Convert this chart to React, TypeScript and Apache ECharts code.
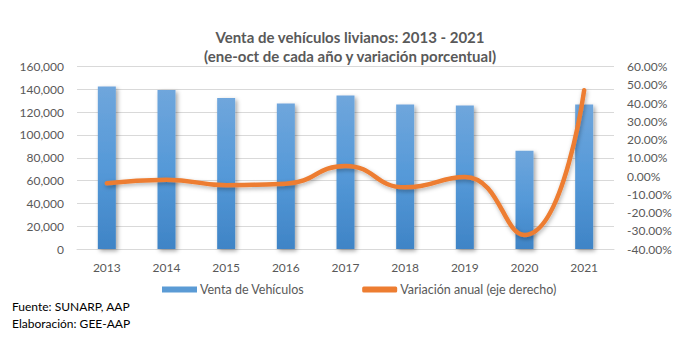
import React, { useEffect, useRef } from "react";
import * as echarts from "echarts";

const years = ["2013", "2014", "2015", "2016", "2017", "2018", "2019", "2020", "2021"];
const ventas = [142400, 139500, 132400, 127500, 134500, 126600, 125700, 86200, 126600];
const variacion = [-4.0, -2.0, -5.0, -4.2, 5.5, -6.2, -0.5, -32.3, 47.0];
const leftTicks = { min: 0, max: 160000, interval: 20000 };
const rightTicks = { min: -40, max: 60, interval: 10 };

const FONT = "Lato, 'Open Sans', sans-serif";
const GRAY = "#595959";

export default function App() {
  const ref = useRef<HTMLDivElement>(null);
  useEffect(() => {
    if (!ref.current) return;
    const chart = echarts.init(ref.current, undefined, { renderer: "svg" });
    chart.setOption({
      animation: false,
      backgroundColor: "#ffffff",
      textStyle: { fontFamily: FONT },
      title: {
        text: "Venta de vehículos livianos: 2013 - 2021\n(ene-oct de cada año y variación porcentual)",
        left: "center",
        top: 22,
        textStyle: { fontFamily: FONT, fontSize: 15, fontWeight: "bold", color: GRAY, lineHeight: 19 },
      },
      grid: { left: 77, right: 86, top: 66.5, bottom: 109, containLabel: false },
      legend: {
        top: 278,
        left: 157,
        itemGap: 58,
        textStyle: { fontFamily: FONT, fontSize: 12.5, color: GRAY, padding: [0, 0, 0, -2] },
        data: [
          { name: "Venta de Vehículos", icon: "rect", itemStyle: { color: "#5b9bd5" } },
          { name: "Variación anual (eje derecho)", icon: "roundRect" },
        ],
        itemWidth: 35,
        itemHeight: 6,
      },
      xAxis: {
        type: "category",
        data: years,
        axisTick: { show: false },
        axisLine: { lineStyle: { color: "#d9d9d9", width: 1 } },
        axisLabel: { color: GRAY, fontSize: 12, fontFamily: FONT, margin: 12 },
      },
      yAxis: [
        {
          type: "value",
          min: leftTicks.min,
          max: leftTicks.max,
          interval: leftTicks.interval,
          axisLabel: {
            color: GRAY,
            fontSize: 12,
            fontFamily: FONT,
            margin: 13,
            formatter: (v: number) => v.toLocaleString("en-US"),
          },
          splitLine: { lineStyle: { color: "#d9d9d9", width: 1 } },
          axisLine: { show: false },
          axisTick: { show: false },
        },
        {
          type: "value",
          min: rightTicks.min,
          max: rightTicks.max,
          interval: rightTicks.interval,
          position: "right",
          axisLabel: {
            color: GRAY,
            fontSize: 12,
            fontFamily: FONT,
            margin: 13,
            formatter: (v: number) => v.toFixed(2) + "%",
          },
          splitLine: { show: false },
          axisLine: { show: false },
          axisTick: { show: false },
        },
      ],
      series: [
        {
          name: "Venta de Vehículos",
          type: "bar",
          data: ventas,
          barWidth: 18,
          itemStyle: {
            color: new echarts.graphic.LinearGradient(0, 0, 0, 1, [
              { offset: 0, color: "#6fa6dc" },
              { offset: 0.5, color: "#5599d8" },
              { offset: 1, color: "#3f84c6" },
            ]),
            shadowBlur: 4,
            shadowColor: "rgba(0,0,0,0.35)",
            shadowOffsetX: 2,
            shadowOffsetY: 2,
          },
        },
        {
          name: "Variación anual (eje derecho)",
          type: "line",
          yAxisIndex: 1,
          data: variacion,
          smooth: 0.5,
          showSymbol: false,
          symbol: "none",
          lineStyle: {
            color: "#ed7d31",
            width: 4.5,
            shadowBlur: 4,
            shadowColor: "rgba(0,0,0,0.3)",
            shadowOffsetX: 1,
            shadowOffsetY: 2,
            cap: "round",
          },
          itemStyle: { color: "#ed7d31" },
        },
      ],
      graphic: [
        {
          type: "text",
          left: 12,
          top: 300,
          style: { text: "Fuente: SUNARP, AAP", fontFamily: FONT, fontSize: 12, fill: "#000000" },
        },
        {
          type: "text",
          left: 12,
          top: 317,
          style: { text: "Elaboración: GEE-AAP", fontFamily: FONT, fontSize: 12, fill: "#000000" },
        },
      ],
    });
    return () => chart.dispose();
  }, []);
  return <div ref={ref} style={{ position: "fixed", left: 0, top: 0, width: 700, height: 358 }} />;
}
